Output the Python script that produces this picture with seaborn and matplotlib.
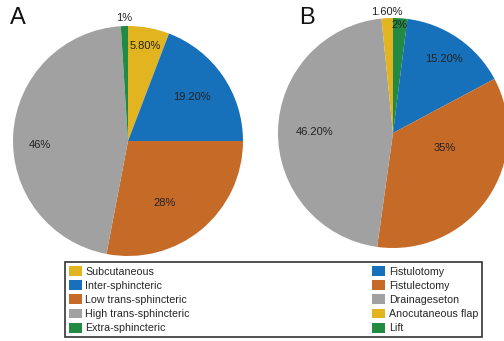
import numpy as np
import matplotlib
matplotlib.use("Agg")
import matplotlib.pyplot as plt
import seaborn as sns

# ---- data ----
cats_a = ["Subcutaneous", "Inter-sphincteric", "Low trans-sphincteric",
          "High trans-sphincteric", "Extra-sphincteric"]
vals_a = [5.8, 19.2, 28.0, 46.0, 1.0]
labels_a = ["5.80%", "19.20%", "28%", "46%", "1%"]

cats_b = ["Lift", "Fistulotomy", "Fistulectomy", "Drainageseton", "Anocutaneous flap"]
vals_b = [2.0, 15.2, 35.0, 46.2, 1.6]
labels_b = ["2%", "15.20%", "35%", "46.20%", "1.60%"]
legend_b_order = ["Fistulotomy", "Fistulectomy", "Drainageseton", "Anocutaneous flap", "Lift"]

# ---- styles / label layout ----
YEL, BLU, ORA, GRY, GRN = "#E2B420", "#1670BA", "#C66A28", "#A1A1A1", "#228A42"
colors_a = [YEL, BLU, ORA, GRY, GRN]
colors_b = [GRN, BLU, ORA, GRY, YEL]
dist_a = [0.84, 0.67, 0.63, 0.77, 1.07]
shift_a = [0, 0, 9, -6, 0]        # degrees, clockwise offset from wedge middle
dist_b = [0.94, 0.78, 0.47, 0.68, 1.05]
shift_b = [0, 0, -19, 0, 0]

sns.set_theme(style="white")
plt.rcParams["font.family"] = ["Liberation Sans", "DejaVu Sans"]

W, H = 504, 341
fig = plt.figure(figsize=(W / 100, H / 100), dpi=100)


def px_axes(x0, y0, x1, y1):
    return fig.add_axes([x0 / W, 1 - y1 / H, (x1 - x0) / W, (y1 - y0) / H])


def draw_pie(ax, vals, colors, labels, dists, shifts):
    wedges, _ = ax.pie(vals, colors=colors, startangle=90, counterclock=False,
                       radius=1.0, wedgeprops=dict(linewidth=0))
    for w, lab, d, s in zip(wedges, labels, dists, shifts):
        ang = np.deg2rad((w.theta1 + w.theta2) / 2 - s)
        ax.text(d * np.cos(ang), d * np.sin(ang), lab, ha="center", va="center",
                fontsize=8, color="#222222", clip_on=False)
    ax.set_xlim(-1, 1)
    ax.set_ylim(-1, 1)
    ax.set_aspect("equal")
    ax.axis("off")
    return wedges


ax_a = px_axes(13, 26, 243, 256)
wa = draw_pie(ax_a, vals_a, colors_a, labels_a, dist_a, shift_a)
ax_b = px_axes(278, 18, 508, 248)
wb = draw_pie(ax_b, vals_b, colors_b, labels_b, dist_b, shift_b)

fig.text(10 / W, 1 - 18 / H, "A", fontsize=17, ha="left", va="center", color="#111111")
fig.text(299 / W, 1 - 18 / H, "B", fontsize=17, ha="left", va="center", color="#111111")

# legend
handles = list(wa)
names = list(cats_a)
for n in legend_b_order:
    i = cats_b.index(n)
    handles.append(wb[i])
    names.append(n)

leg = fig.legend(handles, names, ncol=2, mode="expand", loc="lower left",
                 bbox_to_anchor=(65 / W, 4 / H, 417 / W, 74 / H),
                 fontsize=7.7, frameon=True, fancybox=False, edgecolor="black",
                 handlelength=1.2, handleheight=1.05, handletextpad=0.35,
                 labelspacing=0.33, borderpad=0.35, borderaxespad=0)
leg.get_frame().set_linewidth(1.2)

fig.savefig("out.png", dpi=100)
